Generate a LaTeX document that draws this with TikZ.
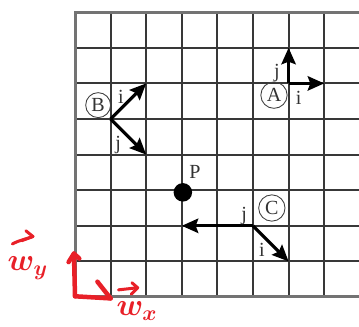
\documentclass[tikz,border=0pt]{standalone}
\usepackage{fontspec}
\setmainfont{Liberation Serif}
\usetikzlibrary{arrows.meta}
\begin{document}
\begin{tikzpicture}[x=1cm,y=1cm,
  gridin/.style={line width=1.5pt, draw=black!78},
  gridout/.style={line width=2.4pt, draw=black!55},
  vec/.style={line width=2.6pt, -{Stealth[length=0.46cm,width=0.40cm,inset=0.07cm]}},
  lbl/.style={font=\fontsize{16}{18}\selectfont, text=black!80, inner sep=0pt},
  circ/.style={draw=black!75, circle, line width=0.7pt, minimum size=0.74cm, inner sep=0pt, font=\fontsize{16}{18}\selectfont, text=black!80},
  redpen/.style={draw={rgb,255:red,232;green,32;blue,40}, line width=3.6pt, line cap=round, line join=round},
  redthin/.style={draw={rgb,255:red,232;green,32;blue,40}, line width=2.4pt, line cap=round, line join=round},
  redtxt/.style={text={rgb,255:red,232;green,32;blue,40}, inner sep=0pt, font=\fontsize{24}{26}\selectfont\boldmath}
]
\useasboundingbox (-2.107,-0.815) rectangle (7.978,8.343);
\begin{scope}
\clip (-2.107,-0.815) rectangle (7.978,8.343);
\foreach \y in {1,...,7} \draw[gridin] (0,\y) -- (8.2,\y);
\foreach \x in {1,...,7} \draw[gridin] (\x,0) -- (\x,8);
\draw[gridout] (8.2,8) -- (0,8) -- (0,0) -- (8.2,0);
\end{scope}

% A
\coordinate (Ao) at (6,6);
\coordinate (Ai) at (7,6);
\coordinate (Aj) at (6,7);
\draw[vec] (Ao) -- (Ai);
\draw[vec] (Ao) -- (Aj);
\node[circ] (Alab) at (5.59,5.67) {A};
\node[lbl] (Ail) at (6.28,5.60) {i};
\node[lbl] (Ajl) at (5.67,6.30) {j};

% B
\coordinate (Bo) at (1,5);
\coordinate (Bi) at (2,6);
\coordinate (Bj) at (2,4);
\draw[vec] (Bo) -- (Bi);
\draw[vec] (Bo) -- (Bj);
\node[circ, minimum size=0.70cm] (Blab) at (0.65,5.39) {B};
\node[lbl] (Bil) at (1.29,5.62) {i};
\node[lbl] (Bjl) at (1.21,4.27) {j};

% P
\node[circle, fill=black, minimum size=0.52cm, inner sep=0pt] (P) at (3.03,2.94) {};
\node[lbl] (Pl) at (3.37,3.51) {P};

% C
\coordinate (Co) at (5,2);
\coordinate (Cj) at (3,2);
\coordinate (Ci) at (6,1);
\draw[vec] (Co) -- (Cj);
\draw[vec] (Co) -- (Ci);
\node[circ] (Clab) at (5.53,2.50) {C};
\node[lbl] (Cjl) at (4.75,2.28) {j};
\node[lbl] (Cil) at (5.25,1.32) {i};

% red handwritten axes
\coordinate (Ro) at (0.0,0.02);
\coordinate (Ry) at (-0.03,1.22);
\coordinate (Rx) at (1.0,-0.04);
\draw[redpen] (Ro) -- (Ry);
\draw[redpen] (-0.18,0.98) -- (Ry) -- (0.12,1.08);
\draw[redpen] (Ro) -- (Rx);
\draw[redpen] (0.63,0.43) -- (Rx);

% red labels with hand-drawn vector marks
\node[redtxt] (wy) at (-1.33,0.80) {$w_{y}$};
\coordinate (wya) at (-1.76,1.49);
\coordinate (wyb) at (-1.18,1.70);
\draw[redthin] (wya) .. controls (-1.55,1.60) and (-1.40,1.62) .. (wyb);
\draw[redthin] (-1.38,1.86) -- (wyb) -- (-1.50,1.58);
\node[redtxt] (wx) at (1.74,-0.40) {$w_{x}$};
\coordinate (wxa) at (1.22,0.20);
\coordinate (wxb) at (1.76,0.26);
\draw[redthin] (wxa) -- (wxb);
\draw[redthin] (1.60,0.40) -- (wxb) -- (1.58,0.08);
\end{tikzpicture}
\end{document}
